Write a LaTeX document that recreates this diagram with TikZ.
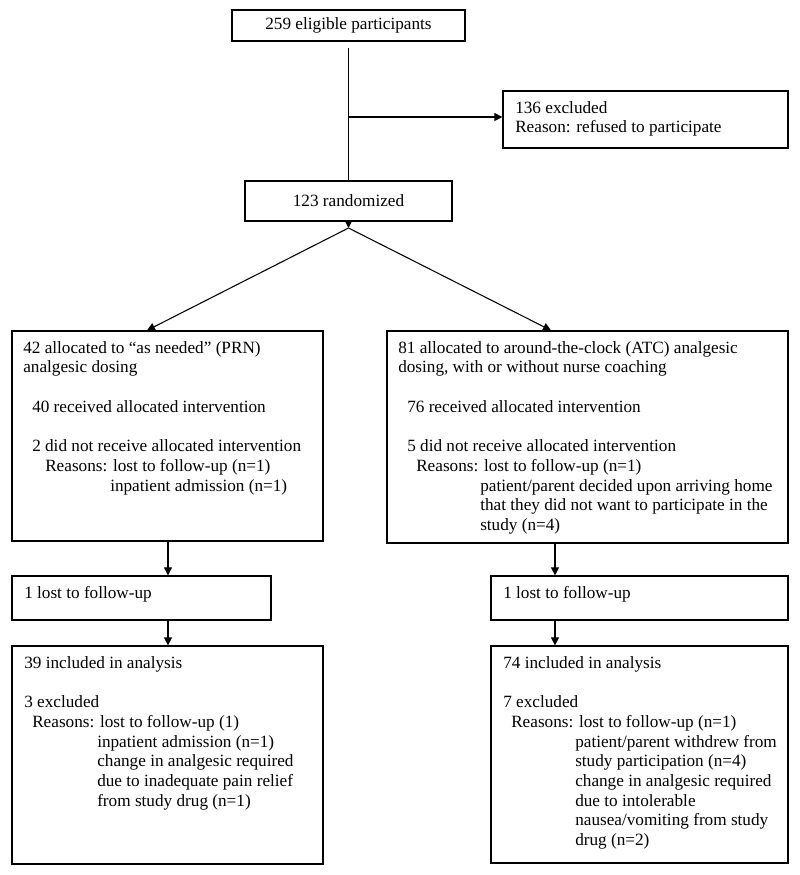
\documentclass[tikz,border=0pt]{standalone}
\usepackage{fontspec}
\setmainfont{Liberation Serif}
\usetikzlibrary{arrows.meta,fit}
\begin{document}
\begin{tikzpicture}[x=0.75pt,y=-0.75pt,
  box/.style={draw, line width=0.9pt, inner sep=0pt},
  txt/.style={inner sep=0pt, align=left, anchor=north west, font=\fontsize{12.9}{14.8}\selectfont},
  ctxt/.style={inner sep=0pt, font=\fontsize{12.9}{14.8}\selectfont},
  conn/.style={line width=0.8pt},
  arr/.style={conn, -{Triangle[length=6pt,width=6pt]}}]
\useasboundingbox (0,0) rectangle (800,875);
% boxes
\node[box, fit={(232,10) (465,41)}] (b1) {};
\node[box, fit={(503,91) (788,148)}] (exc) {};
\node[box, fit={(245,181) (452,221)}] (rand) {};
\node[box, fit={(12,331) (323,541)}] (la) {};
\node[box, fit={(387,331) (788,543)}] (ra) {};
\node[box, fit={(12,576) (271,620)}] (ll) {};
\node[box, fit={(491,576) (788,620)}] (rl) {};
\node[box, fit={(12,646) (323,864)}] (lb) {};
\node[box, fit={(491,646) (788,863)}] (rb) {};
% texts
\node[ctxt] (b1t) at (b1.center) {259 eligible participants};
\node[ctxt] (randt) at (rand.center) {123 randomized};
\node[txt] (exct) at (515,99) {\strut 136 excluded\\Reason: refused to participate};
\node[txt] (lat) at (23,339) {\strut 42 allocated to “as needed” (PRN)\\
analgesic dosing\\[14.8pt]
\hspace*{6.75pt}40 received allocated intervention\\[14.8pt]
\hspace*{6.75pt}2 did not receive allocated intervention\\
\hspace*{16.5pt}Reasons: lost to follow-up (n=1)\\
\hspace*{65.25pt}inpatient admission (n=1)};
\node[txt] (rat) at (398,339) {\strut 81 allocated to around-the-clock (ATC) analgesic\\
dosing, with or without nurse coaching\\[14.8pt]
\hspace*{6.75pt}76 received allocated intervention\\[14.8pt]
\hspace*{6.75pt}5 did not receive allocated intervention\\
\hspace*{13.5pt}Reasons: lost to follow-up (n=1)\\
\hspace*{61.5pt}patient/parent decided upon arriving home\\
\hspace*{61.5pt}that they did not want to participate in the\\
\hspace*{61.5pt}study (n=4)};
\node[txt] (llt) at (24,584) {\strut 1 lost to follow-up};
\node[txt] (rlt) at (503,584) {\strut 1 lost to follow-up};
\node[txt] (lbt) at (24,654) {\strut 39 included in analysis\\[14.8pt]
3 excluded\\
\hspace*{6pt}Reasons: lost to follow-up (1)\\
\hspace*{54.75pt}inpatient admission (n=1)\\
\hspace*{54.75pt}change in analgesic required\\
\hspace*{54.75pt}due to inadequate pain relief\\
\hspace*{54.75pt}from study drug (n=1)};
\node[txt] (rbt) at (503,654) {\strut 74 included in analysis\\[14.8pt]
7 excluded\\
\hspace*{6pt}Reasons: lost to follow-up (n=1)\\
\hspace*{54pt}patient/parent withdrew from\\
\hspace*{54pt}study participation (n=4)\\
\hspace*{54pt}change in analgesic required\\
\hspace*{54pt}due to intolerable\\
\hspace*{54pt}nausea/vomiting from study\\
\hspace*{54pt}drug (n=2)};
% helper coordinates
\coordinate (brh) at (0,117);
\coordinate (br) at (b1.south |- brh);
\coordinate (split) at (348.5,228);
\coordinate (lax) at (147,0);
\coordinate (rax) at (551,0);
\coordinate (lx) at (168,0);
\coordinate (rx) at (555,0);
% connectors
\draw[conn, shorten <=4.5pt] (b1.south) -- (rand.north);
\draw[arr] (br) -- (br -| exc.west);
\draw[arr] (rand.south) -- (split);
\draw[arr] (split) -- (la.north -| lax);
\draw[arr] (split) -- (ra.north -| rax);
\draw[arr] (la.south -| lx) -- (ll.north -| lx);
\draw[arr] (ll.south -| lx) -- (lb.north -| lx);
\draw[arr] (ra.south -| rx) -- (rl.north -| rx);
\draw[arr] (rl.south -| rx) -- (rb.north -| rx);
\end{tikzpicture}
\end{document}
